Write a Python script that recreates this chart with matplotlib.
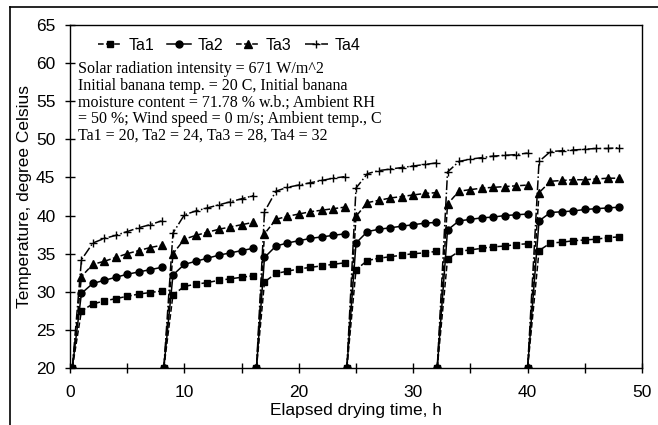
import matplotlib.pyplot as plt
import numpy as np
from matplotlib.lines import Line2D

# each drying day starts again from the initial banana temperature
day_start = [0.2, 8.2, 16.3, 24.2, 32.1, 40.0]
day_hours = [
    [1, 2, 3, 4, 5, 6, 7, 8],
    [9, 10, 11, 12, 13, 14, 15, 16],
    [17, 18, 19, 20, 21, 22, 23, 24],
    [25, 26, 27, 28, 29, 30, 31, 32],
    [33, 34, 35, 36, 37, 38, 39, 40],
    [41, 42, 43, 44, 45, 46, 47, 48],
]
start_temp = 20

ta1 = [
    [27.5, 28.4, 28.8, 29.1, 29.4, 29.7, 29.9, 30.1],
    [29.6, 30.7, 31.0, 31.2, 31.5, 31.7, 31.9, 32.1],
    [31.3, 32.4, 32.7, 33.0, 33.2, 33.4, 33.6, 33.8],
    [32.9, 34.1, 34.4, 34.6, 34.8, 35.0, 35.1, 35.3],
    [34.3, 35.3, 35.5, 35.7, 35.9, 36.0, 36.2, 36.3],
    [35.4, 36.4, 36.5, 36.7, 36.8, 36.9, 37.1, 37.2],
]
ta2 = [
    [29.8, 31.1, 31.5, 31.9, 32.3, 32.6, 32.9, 33.2],
    [32.2, 33.6, 34.0, 34.4, 34.8, 35.1, 35.4, 35.7],
    [34.5, 36.0, 36.4, 36.7, 37.0, 37.2, 37.4, 37.6],
    [36.4, 37.9, 38.2, 38.4, 38.6, 38.8, 39.0, 39.1],
    [38.1, 39.3, 39.5, 39.7, 39.8, 40.0, 40.1, 40.2],
    [39.3, 40.4, 40.5, 40.6, 40.8, 40.9, 41.0, 41.1],
]
ta3 = [
    [32.0, 33.6, 34.0, 34.5, 35.0, 35.4, 35.8, 36.1],
    [35.0, 36.9, 37.4, 37.8, 38.2, 38.5, 38.8, 39.1],
    [37.6, 39.5, 39.9, 40.2, 40.5, 40.7, 40.9, 41.1],
    [39.9, 41.7, 42.0, 42.3, 42.5, 42.7, 42.9, 43.0],
    [41.5, 43.2, 43.4, 43.6, 43.7, 43.8, 43.9, 44.0],
    [43.0, 44.5, 44.6, 44.7, 44.7, 44.8, 44.9, 44.9],
]
ta4 = [
    [34.2, 36.4, 37.0, 37.4, 37.9, 38.4, 38.8, 39.3],
    [37.7, 40.1, 40.6, 41.0, 41.4, 41.8, 42.2, 42.6],
    [40.5, 43.2, 43.7, 44.0, 44.3, 44.6, 44.9, 45.1],
    [43.6, 45.5, 45.9, 46.1, 46.3, 46.5, 46.7, 46.9],
    [45.7, 47.1, 47.4, 47.6, 47.8, 47.9, 48.0, 48.2],
    [47.1, 48.4, 48.5, 48.6, 48.7, 48.8, 48.8, 48.9],
]

note = ("Solar radiation intensity = 671 W/m^2\n"
        "Initial banana temp. = 20 C, Initial banana\n"
        "moisture content = 71.78 % w.b.; Ambient RH\n"
        "= 50 %; Wind speed = 0 m/s; Ambient temp., C\n"
        "Ta1 = 20, Ta2 = 24, Ta3 = 28, Ta4 = 32")


# glue the days together, a nan between days so they are not connected
def join_days(values):
    xs, ys = [], []
    for t0, hrs, vals in zip(day_start, day_hours, values):
        xs += [t0] + hrs + [np.nan]
        ys += [start_temp] + vals + [np.nan]
    return xs, ys


plt.rcParams['font.family'] = ['Liberation Sans', 'DejaVu Sans']

fig = plt.figure(figsize=(6.58, 4.25), dpi=100)
ax = fig.add_axes([70 / 658, 1 - 368 / 425, 572 / 658, 343 / 425])

styles = [
    (ta1, 'Ta1', '--', 's', 5),
    (ta2, 'Ta2', '-', 'o', 5),
    (ta3, 'Ta3', '--', '^', 5.5),
    (ta4, 'Ta4', '-.', '+', 6),
]
for vals, name, ls, mk, ms in styles[::-1]:
    x, y = join_days(vals)
    ax.plot(x, y, color='black', linestyle=ls, linewidth=1.1, marker=mk,
            markersize=ms, markeredgewidth=1, label=name)

ax.set_xlim(0, 50)
ax.set_ylim(20, 65)
ax.set_xticks([0, 10, 20, 30, 40, 50])
ax.set_xticks([5, 15, 25, 35, 45], minor=True)
ax.set_yticks(np.arange(20, 66, 5))
ax.tick_params(which='both', direction='inout', length=7, width=1, labelsize=12.5)
ax.tick_params(axis='x', pad=9)
ax.tick_params(axis='y', pad=7)
for s in ax.spines.values():
    s.set_linewidth(1)

ax.set_xlabel('Elapsed drying time, h', fontsize=12.5, labelpad=2)
ax.set_ylabel('Temperature, degree Celsius', fontsize=12.5, labelpad=3)

handles, labels = ax.get_legend_handles_labels()
ax.legend(handles[::-1], labels[::-1], loc='center left', bbox_to_anchor=(0.035, 0.94),
          ncol=4, frameon=False, fontsize=11.5, handlelength=1.5, handletextpad=0.4,
          columnspacing=0.8, borderpad=0)

fig.text(78 / 658, 1 - 61 / 425, note, family='Liberation Serif', fontsize=11.5,
         va='top', ha='left', linespacing=1.06)

# frame round the whole scanned figure
fig.add_artist(Line2D([10 / 658, 10 / 658], [0, 1 - 7 / 425], transform=fig.transFigure,
                      color='black', linewidth=1.2))
fig.add_artist(Line2D([10 / 658, 1], [1 - 7 / 425, 1 - 7 / 425], transform=fig.transFigure,
                      color='black', linewidth=1.2))

fig.savefig('out.png', dpi=100)
